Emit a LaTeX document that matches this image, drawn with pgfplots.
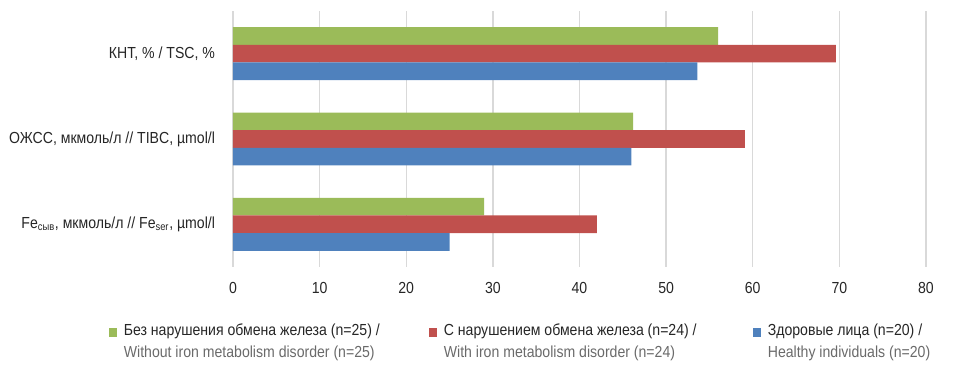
\documentclass[border=0pt]{standalone}
\usepackage{fontspec}
\setmainfont{Liberation Sans}[FakeStretch=0.88]
\usepackage{pgfplots}
\pgfplotsset{compat=1.18}
\definecolor{cgreen}{HTML}{9BBB59}
\definecolor{cred}{HTML}{C0504D}
\definecolor{cblue}{HTML}{4F81BD}
\definecolor{ctext}{HTML}{262626}
\definecolor{cgray}{HTML}{6A6A6A}
\definecolor{cgrid}{HTML}{D9D9D9}
\begin{document}
\begin{tikzpicture}[x=0.75pt,y=0.75pt]
\useasboundingbox (-233,-100) rectangle (726,267);
\begin{axis}[
  at={(0,0)}, anchor=south west,
  scale only axis, width=519.75pt, height=192pt,
  xbar, xmin=0, xmax=80, ymin=-0.5, ymax=2.5,
  xtick={0,10,...,80}, ytick={0,1,2},
  yticklabels={{Fe\textsubscript{сыв}, мкмоль/л // Fe\textsubscript{ser}, µmol/l},
               {ОЖСС, мкмоль/л // TIBC, µmol/l},
               {КНТ, \% / TSC, \%}},
  bar width=0.207,
  xmajorgrids, grid style={draw=cgrid, line width=1pt},
  axis line style={draw=none}, major tick length=0pt,
  /pgf/number format/assume math mode=true,
  tick label style={font=\fontsize{12}{14}\selectfont, text=ctext},
  yticklabel style={xshift=-10pt},
  xticklabel style={yshift=-8pt},
  legend columns=3,
  legend cell align=left,
  legend style={draw=none, fill=none, font=\fontsize{12}{16.5}\selectfont,
    at={(-0.180,-0.212)}, anchor=north west,
    /tikz/every even column/.append style={column sep=0pt},
    inner sep=0pt},
  legend image code/.code={\fill[#1] (0pt,-4.5pt) rectangle (6.5pt,2pt);},
]
\addplot[draw=none, fill=cgreen, bar shift=0.207] coordinates {(29,0) (46.2,1) (56,2)};
\addlegendentry{\parbox[t]{229.5pt}{\hspace*{3pt}\color{ctext}Без нарушения обмена железа (n=25) /\\\hspace*{3pt}\color{cgray}Without iron metabolism disorder (n=25)}}
\addplot[draw=none, fill=cred, bar shift=0] coordinates {(42,0) (59.1,1) (69.6,2)};
\addlegendentry{\parbox[t]{232.5pt}{\hspace*{3pt}\color{ctext}С нарушением обмена железа (n=24) /\\\hspace*{3pt}\color{cgray}With iron metabolism disorder (n=24)}}
\addplot[draw=none, fill=cblue, bar shift=-0.207] coordinates {(25,0) (46,1) (53.6,2)};
\addlegendentry{\parbox[t]{140pt}{\hspace*{3pt}\color{ctext}Здоровые лица (n=20) /\\\hspace*{3pt}\color{cgray}Healthy individuals (n=20)}}
\end{axis}
\end{tikzpicture}
\end{document}
